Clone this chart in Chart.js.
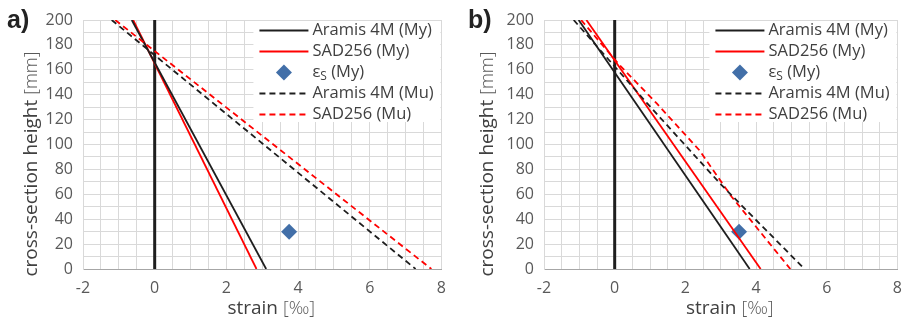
<!DOCTYPE html>
<html>
<head>
<meta charset="utf-8">
<script src="https://cdn.jsdelivr.net/npm/chart.js@4"></script>
<style>
  body { margin: 0; background: #fff; width: 912px; height: 321px; overflow: hidden; }
  .panel { position: absolute; top: 0; width: 456px; height: 321px; }
</style>
</head>
<body>
<div class="panel" style="left:0"><canvas id="chartA" width="456" height="321"></canvas></div>
<div class="panel" style="left:456px"><canvas id="chartB" width="456" height="321"></canvas></div>
<script>
// points are [strain in ‰, height in mm]
const aAramisMy = [[-0.64, 200], [3.11, 0]];
const aSadMy = [[-0.6, 200], [2.84, 0]];
const aSteelMy = [[3.75, 30]];
const aAramisMu = [[-1.2, 200], [7.28, 0]];
const aSadMu = [[-1.1, 200], [7.72, 0]];

const bAramisMy = [[-1.02, 200], [3.82, 0]];
const bSadMy = [[-0.8, 200], [4.13, 0]];
const bSteelMy = [[3.52, 30]];
const bAramisMu = [[-1.16, 200], [0.92, 133], [3.02, 67.5], [5.37, 0]];
const bSadMu = [[-0.95, 200], [0.13, 164], [1.19, 133], [2.39, 95.6], [3.31, 58], [4.97, 0]];

const xTickLabels = [-2, 0, 2, 4, 6, 8];
const yTickLabels = [0, 20, 40, 60, 80, 100, 120, 140, 160, 180, 200];
const seriesNames = ["Aramis 4M (My)", "SAD256 (My)", "εS (My)", "Aramis 4M (Mu)", "SAD256 (Mu)"];

const BLACK = "#1e1e1e";
const RED = "#ff0000";
const BLUE = "#426fa8";
const TEXT = "#404040";

function pts(arr) {
  return arr.map(function (p) { return { x: p[0], y: p[1] }; });
}

function lineSet(label, data, color, dashed) {
  return {
    label: label,
    data: pts(data),
    showLine: true,
    borderColor: color,
    backgroundColor: color,
    borderWidth: 1.8,
    borderDash: dashed ? [6, 4] : [],
    pointRadius: 0,
  };
}

function buildDatasets(aramisMy, sadMy, steel, aramisMu, sadMu) {
  return [
    lineSet(seriesNames[3], aramisMu, BLACK, true),
    lineSet(seriesNames[4], sadMu, RED, true),
    lineSet(seriesNames[0], aramisMy, BLACK, false),
    lineSet(seriesNames[1], sadMy, RED, false),
    {
      label: seriesNames[2],
      data: pts(steel),
      showLine: false,
      pointStyle: "rectRot",
      pointRadius: 8,
      backgroundColor: BLUE,
      borderColor: BLUE,
      borderWidth: 0,
    },
  ];
}

// thick line at zero strain, on top of the grid
const zeroLine = {
  id: "zeroLine",
  beforeDatasetsDraw(chart) {
    const ctx = chart.ctx;
    const area = chart.chartArea;
    const x = chart.scales.x.getPixelForValue(0);
    ctx.save();
    ctx.strokeStyle = BLACK;
    ctx.lineWidth = 3;
    ctx.beginPath();
    ctx.moveTo(x, area.top);
    ctx.lineTo(x, area.bottom);
    ctx.stroke();
    ctx.restore();
  },
};

// legend drawn inside the plot, top right, in the order of seriesNames
const insetLegend = {
  id: "insetLegend",
  afterDatasetsDraw(chart) {
    const ctx = chart.ctx;
    const area = chart.chartArea;
    const x0 = area.right - 182;
    ctx.save();
    ctx.fillStyle = "#fff";
    ctx.fillRect(x0 - 6, area.top + 1, area.right - x0 + 5, 101);
    ctx.font = "16.5px 'Open Sans'";
    ctx.textBaseline = "middle";
    seriesNames.forEach(function (name, i) {
      const ds = chart.data.datasets.find(function (d) { return d.label === name; });
      const y = area.top + 10.5 + i * 21;
      if (ds.showLine) {
        ctx.strokeStyle = ds.borderColor;
        ctx.lineWidth = 1.8;
        ctx.setLineDash(ds.borderDash);
        ctx.beginPath();
        ctx.moveTo(x0, y);
        ctx.lineTo(x0 + 49, y);
        ctx.stroke();
        ctx.setLineDash([]);
      } else {
        ctx.fillStyle = ds.backgroundColor;
        ctx.beginPath();
        ctx.moveTo(x0 + 24.5, y - 8);
        ctx.lineTo(x0 + 32.5, y);
        ctx.lineTo(x0 + 24.5, y + 8);
        ctx.lineTo(x0 + 16.5, y);
        ctx.closePath();
        ctx.fill();
      }
      ctx.fillStyle = TEXT;
      let tx = x0 + 53;
      if (name.charAt(0) === "ε") {
        ctx.fillText("ε", tx, y);
        tx += ctx.measureText("ε").width;
        ctx.font = "12px 'Open Sans'";
        ctx.fillText("S", tx, y + 4);
        tx += ctx.measureText("S").width;
        ctx.font = "16.5px 'Open Sans'";
        ctx.fillText(name.slice(2), tx, y);
      } else {
        ctx.fillText(name, tx, y);
      }
    });
    ctx.restore();
  },
};

// panel letter and axis titles
const panelText = {
  id: "panelText",
  afterDraw(chart, args, opts) {
    const ctx = chart.ctx;
    const area = chart.chartArea;
    ctx.save();
    ctx.fillStyle = "#222";
    ctx.font = "bold 25px 'Liberation Sans'";
    ctx.textBaseline = "middle";
    ctx.textAlign = "left";
    ctx.fillText(opts.letter, opts.letterX, 21);

    // x title
    ctx.font = "19px 'Open Sans'";
    const w1 = ctx.measureText("strain ").width;
    ctx.font = "300 18px 'Open Sans'";
    const w2 = ctx.measureText("[‰]").width;
    let sx = (area.left + area.right) / 2 + 9 - (w1 + w2) / 2;
    ctx.fillStyle = TEXT;
    ctx.font = "19px 'Open Sans'";
    ctx.fillText("strain ", sx, 309);
    ctx.fillStyle = "#595959";
    ctx.font = "300 18px 'Open Sans'";
    ctx.fillText("[‰]", sx + w1, 309);

    // y title
    ctx.translate(32, 164);
    ctx.rotate(-Math.PI / 2);
    ctx.font = "19px 'Open Sans'";
    const v1 = ctx.measureText("cross-section height ").width;
    ctx.font = "300 18px 'Open Sans'";
    const v2 = ctx.measureText("[mm]").width;
    const sy = -(v1 + v2) / 2;
    ctx.fillStyle = TEXT;
    ctx.font = "19px 'Open Sans'";
    ctx.fillText("cross-section height ", sy, 0);
    ctx.fillStyle = "#595959";
    ctx.font = "300 18px 'Open Sans'";
    ctx.fillText("[mm]", sy + v1, 0);
    ctx.restore();
  },
};

function makeChart(id, datasets, leftWidth, rightPad, letter, letterX) {
  return new Chart(document.getElementById(id), {
    type: "scatter",
    data: { datasets: datasets },
    plugins: [zeroLine, insetLegend, panelText],
    options: {
      responsive: false,
      animation: false,
      layout: { padding: { top: 20, right: rightPad, left: 0, bottom: 0 } },
      plugins: {
        legend: { display: false },
        tooltip: { enabled: false },
        panelText: { letter: letter, letterX: letterX },
      },
      scales: {
        x: {
          type: "linear",
          min: -2,
          max: 8,
          afterFit: function (s) { s.height = 52; },
          ticks: {
            stepSize: 0.5,
            autoSkip: false,
            maxRotation: 0,
            padding: 10,
            color: "#595959",
            font: { family: "'Open Sans'", size: 16 },
            callback: function (v) { return xTickLabels.includes(v) ? String(v) : ""; },
          },
          grid: { drawTicks: false, color: "#d9d9d9" },
          border: { color: "#a6a6a6", width: 1 },
        },
        y: {
          type: "linear",
          min: 0,
          max: 200,
          afterFit: function (s) { s.width = leftWidth; },
          ticks: {
            stepSize: 10,
            autoSkip: false,
            padding: 10,
            color: "#595959",
            font: { family: "'Open Sans'", size: 16 },
            callback: function (v) { return yTickLabels.includes(v) ? String(v) : ""; },
          },
          grid: { drawTicks: false, color: "#d9d9d9" },
          border: { color: "#d9d9d9" },
        },
      },
    },
  });
}

makeChart("chartA", buildDatasets(aAramisMy, aSadMy, aSteelMy, aAramisMu, aSadMu), 83, 11, "a)", 7);
makeChart("chartB", buildDatasets(bAramisMy, bSadMy, bSteelMy, bAramisMu, bSadMu), 88, 5, "b)", 12);
</script>
</body>
</html>
